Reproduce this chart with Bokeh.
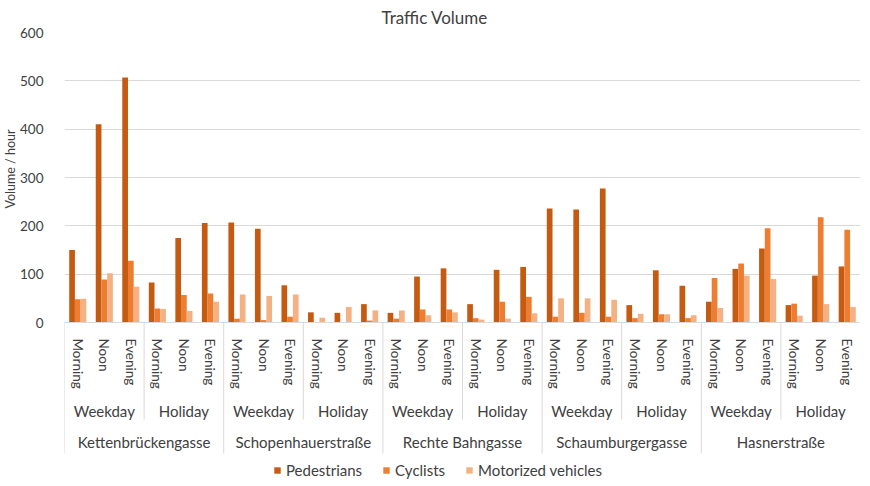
import math
from bokeh.plotting import figure
from bokeh.models import (ColumnDataSource, FactorRange, Legend, LegendItem,
                          Title, Range1d)
from bokeh.transform import dodge
from bokeh.embed import file_html
from bokeh.resources import INLINE

locations = ["Kettenbrückengasse", "Schopenhauerstraße", "Rechte Bahngasse",
             "Schaumburgergasse", "Hasnerstraße"]
day_types = ["Weekday", "Holiday"]
times = ["Morning", "Noon", "Evening"]

pedestrians = [150, 410, 507, 83, 175, 206,
               207, 194, 77, 21, 20, 38,
               20, 95, 112, 38, 109, 115,
               236, 234, 277, 36, 108, 76,
               43, 111, 153, 36, 97, 116]
cyclists = [48, 89, 128, 29, 57, 60,
            8, 5, 12, 0, 0, 4,
            8, 27, 27, 9, 43, 53,
            12, 20, 12, 9, 17, 9,
            92, 122, 195, 39, 218, 192]
motorized = [49, 102, 74, 28, 24, 43,
             58, 55, 58, 10, 32, 25,
             25, 15, 21, 6, 8, 19,
             50, 50, 47, 18, 17, 15,
             30, 97, 90, 14, 38, 32]
y_ticks = [0, 100, 200, 300, 400, 500, 600]

series_names = ["Pedestrians", "Cyclists", "Motorized vehicles"]
colors = ["#C55A11", "#ED7D31", "#F4B183"]

factors = [(loc, d, t) for loc in locations for d in day_types for t in times]
source = ColumnDataSource(dict(x=factors, ped=pedestrians, cyc=cyclists, mot=motorized))

FONT = "Lato"
TXT = "#404040"
GRID = "#D9D9D9"

# value area is 290 px tall for 0..600; the frame continues below zero
# to hold the category axis, its separator lines and the legend
VAL_PX = 290
AX_PX = 160
y_max = y_ticks[-1]
y_min = -y_max * AX_PX / VAL_PX

p = figure(x_range=FactorRange(*factors, factor_padding=0, subgroup_padding=0,
                               group_padding=0, range_padding=0),
           y_range=Range1d(y_min, y_max), frame_width=796,
           frame_height=VAL_PX + AX_PX,
           output_backend="svg", toolbar_location=None,
           min_border_left=58, min_border_right=0,
           min_border_top=0, min_border_bottom=0)

w = 0.215
r1 = p.vbar(x=dodge('x', -w, range=p.x_range), top='ped', width=w, source=source,
            fill_color=colors[0], line_color=None)
r2 = p.vbar(x=dodge('x', 0, range=p.x_range), top='cyc', width=w, source=source,
            fill_color=colors[1], line_color=None)
r3 = p.vbar(x=dodge('x', w, range=p.x_range), top='mot', width=w, source=source,
            fill_color=colors[2], line_color=None)

# separator lines of the category axis (between day types and locations)
n_t = len(times)
n_d = len(day_types) * n_t
sep_x = [k * n_t for k in range(len(factors) // n_t + 1)]
loc_depth = -y_max * 131 / VAL_PX
day_depth = -y_max * 97 / VAL_PX
sep_y1 = [loc_depth if xb % n_d == 0 else day_depth for xb in sep_x]
p.segment(x0=sep_x, y0=[0] * len(sep_x), x1=sep_x, y1=sep_y1,
          line_color=GRID, line_width=1)

title = Title(text="Traffic Volume", align="left", offset=317,
              text_font=FONT, text_font_style="normal", text_font_size="17px",
              text_color=TXT, standoff=9)
p.add_layout(title, "above")

ylab = Title(text="Volume / hour", align="right", offset=97,
             text_font=FONT, text_font_style="normal", text_font_size="12.5px",
             text_color=TXT, standoff=0)
p.add_layout(ylab, "left")

p.outline_line_color = None
p.xgrid.grid_line_color = None
p.ygrid.grid_line_color = GRID
p.ygrid.grid_line_width = 1

p.yaxis.ticker = y_ticks
p.yaxis.axis_line_color = None
p.yaxis.major_tick_line_color = None
p.yaxis.minor_tick_line_color = None
p.yaxis.major_label_text_font = FONT
p.yaxis.major_label_text_font_size = "13.5px"
p.yaxis.major_label_text_color = TXT
p.yaxis.major_label_standoff = 15

xa = p.xaxis[0]
xa.fixed_location = 0
xa.axis_line_color = GRID
xa.major_tick_line_color = None
xa.minor_tick_line_color = None
xa.major_label_orientation = "vertical"
xa.major_label_text_font = FONT
xa.major_label_text_font_size = "13.5px"
xa.major_label_text_color = TXT
xa.major_label_standoff = 10
xa.subgroup_text_font = FONT
xa.subgroup_text_font_size = "15px"
xa.subgroup_text_font_style = "normal"
xa.subgroup_text_color = TXT
xa.group_text_font = FONT
xa.group_text_font_size = "15px"
xa.group_text_font_style = "normal"
xa.group_text_color = TXT
xa.separator_line_color = None

legend = Legend(items=[LegendItem(label=series_names[0], renderers=[r1]),
                       LegendItem(label=series_names[1], renderers=[r2]),
                       LegendItem(label=series_names[2], renderers=[r3])],
                orientation="horizontal", location=(209, 3),
                label_text_font=FONT, label_text_font_size="15px",
                label_text_color=TXT, glyph_width=8, glyph_height=8,
                spacing=20, label_standoff=5, border_line_color=None,
                background_fill_alpha=0, padding=2, margin=0)
p.add_layout(legend, "center")

open("out.html", "w").write(file_html(p, INLINE))
